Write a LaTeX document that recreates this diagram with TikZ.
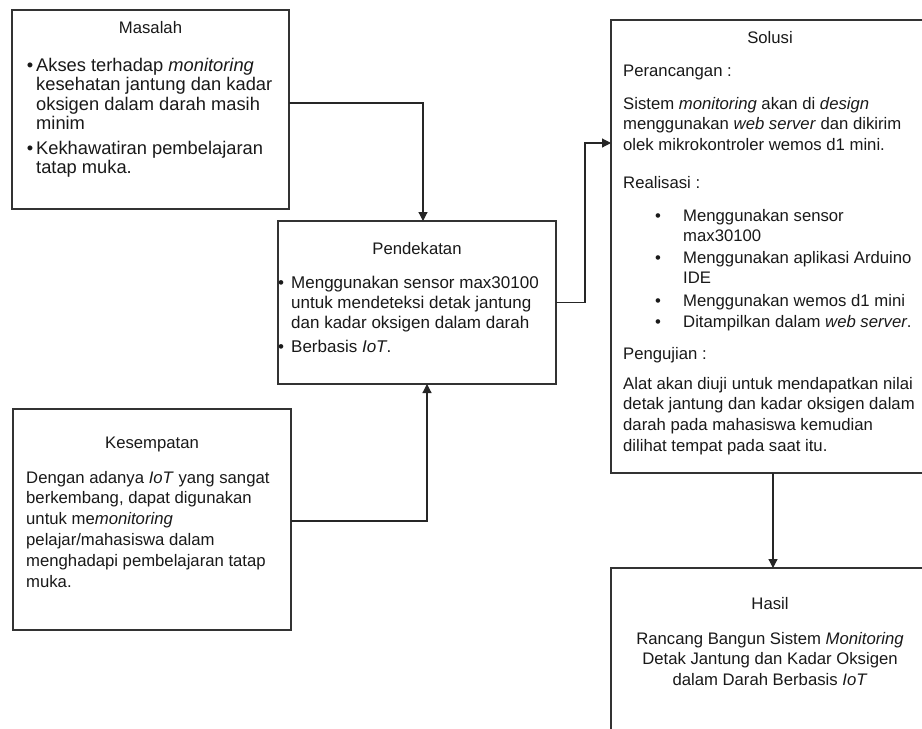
\documentclass[tikz,border=0pt]{standalone}
\usepackage{fontspec}
\setmainfont{Liberation Sans}
\usetikzlibrary{arrows.meta}
\newcommand\fsTitle{\fontsize{16.7}{20.5}\selectfont}
\newcommand\fsBig{\fontsize{18.3}{19.6}\selectfont}
\newcommand\fsMid{\fontsize{17}{20}\selectfont}
\newcommand\fsBody{\fontsize{16.7}{20.8}\selectfont}
\begin{document}
\begin{tikzpicture}[x=1pt,y=-1pt,
  box/.style={draw=black!80, line width=1.3pt, fill=white, inner sep=0pt, outer sep=0pt},
  conn/.style={draw=black!85, line width=1.2pt, -{Triangle[length=9pt,width=9pt]}},
  ttl/.style={anchor=base, inner sep=0pt, font=\fsTitle, text=black!90},
  txtB/.style={anchor=base west, inner sep=0pt, align=left, font=\fsBig, text=black!90},
  txtM/.style={anchor=base west, inner sep=0pt, align=left, font=\fsMid, text=black!90},
  txt/.style={anchor=base west, inner sep=0pt, align=left, font=\fsBody, text=black!90},
  bltB/.style={anchor=base, inner sep=0pt, font=\fsBig, text=black!90},
  bltM/.style={anchor=base, inner sep=0pt, font=\fsMid, text=black!90},
  blt/.style={anchor=base, inner sep=0pt, font=\fsBody, text=black!90}]
\path[use as bounding box] (0,0) rectangle (922,729);
\clip (0,0) rectangle (922,729);
\fill[white] (0,0) rectangle (922,729);

% boxes
\node[box, minimum width=277pt, minimum height=199pt] (mas) at (150.5,109.5) {};
\node[box, minimum width=278pt, minimum height=163pt] (pen) at (417,302.5) {};
\node[box, minimum width=278pt, minimum height=221pt] (kes) at (152,519.5) {};
\node[box, minimum width=318pt, minimum height=453pt] (sol) at (770,246.5) {};
\node[box, minimum width=318pt, minimum height=200pt] (has) at (770,668) {};

% Masalah (multi-line nodes are placed by the baseline of their last line)
\node[ttl] (masT) at (150.5,33) {Masalah};
\node[bltB] (masB1) at (30,71) {•};
\node[txtB] (mas1) at (36,129.8) {Akses terhadap \textit{monitoring}\\kesehatan jantung dan kadar\\oksigen dalam darah masih\\minim};
\node[bltB] (masB2) at (30,154) {•};
\node[txtB] (mas2) at (36,173.6) {Kekhawatiran pembelajaran\\tatap muka.};

% Pendekatan
\node[ttl] (penT) at (417,254) {Pendekatan};
\node[bltM] (penB1) at (281,288) {•};
\node[txtM] (pen1) at (291,328) {Menggunakan sensor max30100\\untuk mendeteksi detak jantung\\dan kadar oksigen dalam darah};
\node[bltM] (penB2) at (281,352) {•};
\node[txtM] (pen2) at (291,352) {Berbasis \textit{IoT}.};

% Kesempatan
\node[ttl] (kesT) at (152,448) {Kesempatan};
\node[txt] (kes1) at (26,587) {Dengan adanya \textit{IoT} yang sangat\\berkembang, dapat digunakan\\untuk me\textit{monitoring}\\pelajar/mahasiswa dalam\\menghadapi pembelajaran tatap\\muka.};

% Solusi
\node[ttl] (solT) at (770,43) {Solusi};
\node[txt] (sol1) at (623,76) {Perancangan :};
\node[txt] (sol2) at (623,150.6) {Sistem \textit{monitoring} akan di \textit{design}\\menggunakan \textit{web server} dan dikirim\\olek mikrokontroler wemos d1 mini.};
\node[txt] (sol3) at (623,188) {Realisasi :};
\node[blt] (solB1) at (658,221) {•};
\node[txt] (sol4) at (683,241.8) {Menggunakan sensor\\max30100};
\node[blt] (solB2) at (658,263) {•};
\node[txt] (sol5) at (683,283.8) {Menggunakan aplikasi Arduino\\IDE};
\node[blt] (solB3) at (658,306) {•};
\node[txt] (sol6) at (683,306) {Menggunakan wemos d1 mini};
\node[blt] (solB4) at (658,327) {•};
\node[txt] (sol7) at (683,327) {Ditampilkan dalam \textit{web server}.};
\node[txt] (sol8) at (623,359) {Pengujian :};
\node[txt] (sol9) at (623,451.4) {Alat akan diuji untuk mendapatkan nilai\\detak jantung dan kadar oksigen dalam\\darah pada mahasiswa kemudian\\dilihat tempat pada saat itu.};

% Hasil
\node[ttl] (hasT) at (770,609) {Hasil};
\node[anchor=base, inner sep=0pt, align=center, font=\fsBody, text=black!90] (has1) at (770,685.6) {Rancang Bangun Sistem \textit{Monitoring}\\Detak Jantung dan Kadar Oksigen\\dalam Darah Berbasis \textit{IoT}};

% connectors
\draw[conn] ([yshift=6.5pt]mas.east) -| ([xshift=6pt]pen.north);
\draw[conn] ([yshift=-1.5pt]kes.east) -| ([xshift=10pt]pen.south);
\draw[conn] (pen.east) -- ++(29,0) |- ([yshift=103.5pt]sol.west);
\draw[conn] ([xshift=3pt]sol.south) -- ([xshift=3pt]sol.south |- has.north);
\end{tikzpicture}
\end{document}
